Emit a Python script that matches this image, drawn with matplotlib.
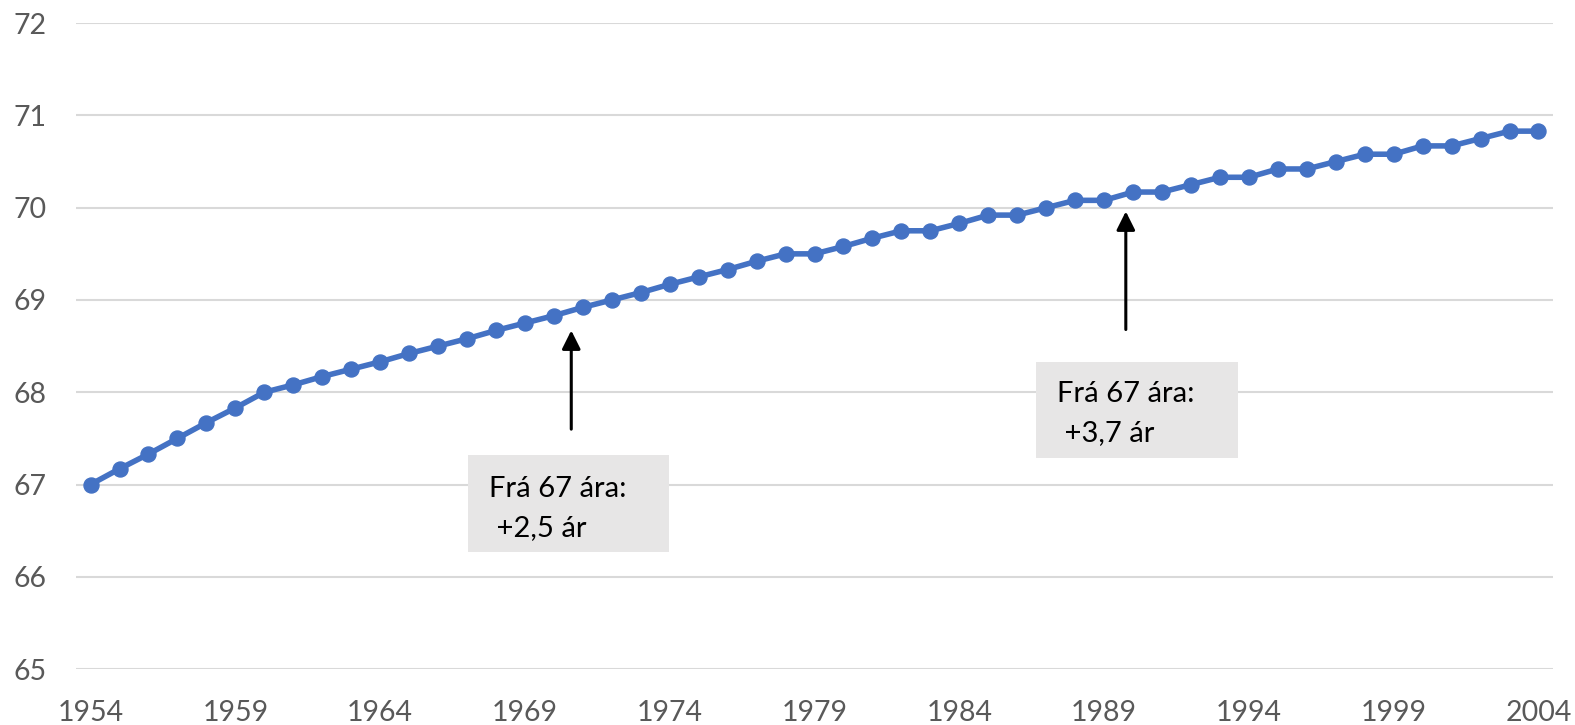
import matplotlib
matplotlib.use("Agg")
import matplotlib.pyplot as plt
from matplotlib.patches import Rectangle

plt.rcParams['font.family'] = ['Lato', 'DejaVu Sans']

years = list(range(1954, 2005))
pension_age = [
    67.00, 67.17, 67.33, 67.50, 67.67, 67.83, 68.00, 68.08, 68.17, 68.25,
    68.33, 68.42, 68.50, 68.58, 68.67, 68.75, 68.83, 68.92, 69.00, 69.08,
    69.17, 69.25, 69.33, 69.42, 69.50, 69.50, 69.58, 69.67, 69.75, 69.75,
    69.83, 69.92, 69.92, 70.00, 70.08, 70.08, 70.17, 70.17, 70.25, 70.33,
    70.33, 70.42, 70.42, 70.50, 70.58, 70.58, 70.67, 70.67, 70.75, 70.83,
    70.83,
]
xtick_years = list(range(1954, 2005, 5))
yticks = list(range(65, 73))

notes = ["Frá 67 ára:", " +2,5 ár", "Frá 67 ára:", " +3,7 ár"]

line_color = "#4472C4"
grid_color = "#D9D9D9"
tick_color = "#595959"

fig = plt.figure(figsize=(15.75, 7.25), dpi=100)
ax = fig.add_axes([0.0483, 0.0772, 0.9377, 0.8908])

ax.plot(years, pension_age, color=line_color, lw=4.0, marker='o',
        markersize=10.8, markerfacecolor=line_color, markeredgecolor=line_color,
        zorder=3, solid_joinstyle='round')

ax.set_xlim(1953.5, 2004.5)
ax.set_ylim(65, 72)
ax.set_xticks(xtick_years)
ax.set_yticks(yticks)
ax.yaxis.grid(True, color=grid_color, lw=1.5)
ax.set_axisbelow(True)
for s in ax.spines.values():
    s.set_visible(False)
ax.tick_params(axis='both', length=0, labelsize=20.5, labelcolor=tick_color)
ax.tick_params(axis='y', pad=21)
ax.tick_params(axis='x', pad=22)

# Annotation boxes
boxes = [
    (1967.03, 66.27, 6.95, 1.05),
    (1986.65, 67.29, 6.97, 1.04),
]
for (bx, by, bw, bh) in boxes:
    ax.add_patch(Rectangle((bx, by), bw, bh, facecolor="#E7E6E6",
                           edgecolor='none', zorder=4))

fs = 21
ax.text(1967.75, 66.86, notes[0], fontsize=fs, color='black', va='baseline', zorder=5)
ax.text(1967.75, 66.44, notes[1], fontsize=fs, color='black', va='baseline', zorder=5)
ax.text(1987.37, 67.89, notes[2], fontsize=fs, color='black', va='baseline', zorder=5)
ax.text(1987.37, 67.47, notes[3], fontsize=fs, color='black', va='baseline', zorder=5)

# Arrows pointing at the curve
arrows = [
    (1970.6, 67.60, 68.67),
    (1989.75, 68.68, 69.96),
]
for (ax_x, y0, y1) in arrows:
    ax.annotate("", xy=(ax_x, y1), xytext=(ax_x, y0),
                arrowprops=dict(arrowstyle='-|>', color='black', lw=2.2,
                                mutation_scale=28, shrinkA=0, shrinkB=0),
                zorder=5)

fig.savefig("out.png", dpi=100)
